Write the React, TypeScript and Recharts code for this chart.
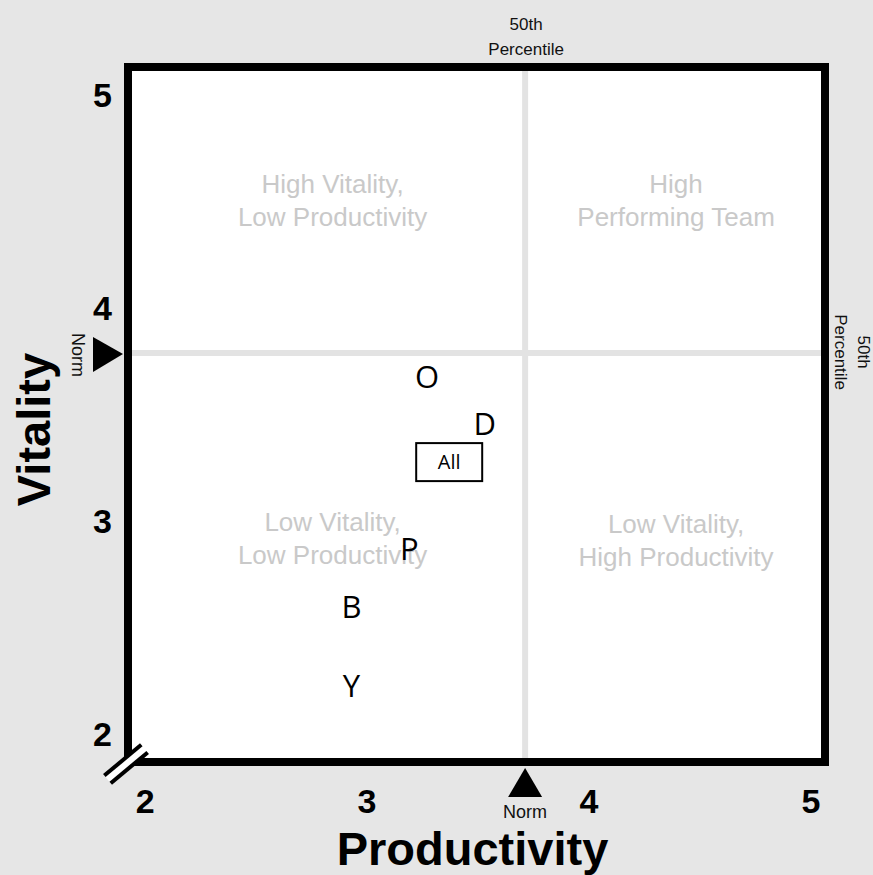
import React from 'react';
import { ScatterChart, Scatter, XAxis, YAxis, ReferenceArea, ReferenceLine } from 'recharts';

const teams = ['O', 'D', 'All', 'P', 'B', 'Y'];
const productivity = [3.27, 3.53, 3.37, 3.19, 2.93, 2.93];
const vitality = [3.7, 3.48, 3.3, 2.89, 2.62, 2.25];
const axisTicks = [2, 3, 4, 5];
const xDomain = [1.923, 5.063];
const yDomain = [1.892, 5.155];
const normProductivity = 3.712;
const normVitality = 3.812;
const quadrantNames = [
  ['High Vitality,', 'Low Productivity'],
  ['High', 'Performing Team'],
  ['Low Vitality,', 'Low Productivity'],
  ['Low Vitality,', 'High Productivity'],
];
const percentileText = ['50th', 'Percentile'];
const normText = 'Norm';

const points = teams.map((name, i) => ({ name, x: productivity[i], y: vitality[i] }));

const ARIAL = '"Liberation Sans", Arial, Helvetica, sans-serif';
const LETTER_FONT = '"Open Sans", "Noto Sans", sans-serif';
const BG = '#e6e6e6';

const XTick = ({ x, y, payload }: any) => (
  <text x={x} y={y + 51} textAnchor="middle" fontFamily={ARIAL} fontWeight="bold" fontSize={34} fill="#000">
    {payload.value}
  </text>
);

const YTick = ({ x, y, payload }: any) => (
  <text x={x - 16} y={y + 7} textAnchor="end" fontFamily={ARIAL} fontWeight="bold" fontSize={34} fill="#000">
    {payload.value}
  </text>
);

// white quadrant with its grey caption
const quadrantShape = (lines: string[], dx: number, dy: number) => (props: any) => {
  const { x, y, width, height } = props;
  const cx = x + width / 2 + dx;
  const cy = y + height / 2 + dy;
  return (
    <g>
      <rect x={x} y={y} width={width} height={height} fill="#fff" />
      <text textAnchor="middle" fontFamily={ARIAL} fontSize={26} fill="#c9c9c9">
        <tspan x={cx} y={cy}>{lines[0]}</tspan>
        <tspan x={cx} y={cy + 33}>{lines[1]}</tspan>
      </text>
    </g>
  );
};

const BorderShape = (props: any) => {
  const { x, y, width, height } = props;
  const bx = x - 2;
  const by = y + height + 2;
  const ux = 0.77, uy = -0.64; // break direction
  const nx = 0.64, ny = 0.77;
  const L = 24;
  const off = 5;
  const seg = (o: number) => ({
    x1: bx - ux * L + nx * o, y1: by - uy * L + ny * o,
    x2: bx + ux * L + nx * o, y2: by + uy * L + ny * o,
  });
  const a = seg(-off);
  const b = seg(off);
  return (
    <g>
      <rect x={x} y={y} width={width} height={height} fill="none" stroke="#000" strokeWidth={8} />
      <polygon
        points={`${a.x1},${a.y1} ${a.x2},${a.y2} ${b.x2},${b.y2} ${b.x1},${b.y1}`}
        fill="#fff"
      />
      <line {...a} stroke="#000" strokeWidth={4} />
      <line {...b} stroke="#000" strokeWidth={4} />
    </g>
  );
};

const VerticalNormLabel = (props: any) => {
  const vb = props.viewBox || {};
  const lx = vb.x;
  const top = vb.y;
  const bottom = vb.y + vb.height;
  return (
    <g>
      <text textAnchor="middle" fontFamily={ARIAL} fontSize={17} fill="#111">
        <tspan x={lx + 1} y={top - 37}>{percentileText[0]}</tspan>
        <tspan x={lx + 1} y={top - 12}>{percentileText[1]}</tspan>
      </text>
      <polygon points={`${lx},${bottom + 6} ${lx - 17},${bottom + 35} ${lx + 17},${bottom + 35}`} fill="#000" />
      <text x={lx} y={bottom + 56} textAnchor="middle" fontFamily={ARIAL} fontSize={18} fill="#111">
        {normText}
      </text>
    </g>
  );
};

const HorizontalNormLabel = (props: any) => {
  const vb = props.viewBox || {};
  const ly = vb.y;
  const left = vb.x;
  const right = vb.x + vb.width;
  return (
    <g>
      <polygon points={`${left - 5},${ly + 1} ${left - 35},${ly - 16} ${left - 35},${ly + 19}`} fill="#000" />
      <g transform={`translate(${left - 56},${ly + 2}) rotate(90)`}>
        <text x={0} y={0} textAnchor="middle" fontFamily={ARIAL} fontSize={18} fill="#111">
          {normText}
        </text>
      </g>
      <g transform={`translate(${right + 45},${ly - 1}) rotate(90)`}>
        <text textAnchor="middle" fontFamily={ARIAL} fontSize={17} fill="#111">
          <tspan x={0} y={12}>{percentileText[0]}</tspan>
          <tspan x={0} y={35}>{percentileText[1]}</tspan>
        </text>
      </g>
    </g>
  );
};

const TeamMark = (props: any) => {
  const { cx, cy, payload } = props;
  if (payload.name === 'All') {
    return (
      <g>
        <rect x={cx - 33} y={cy - 19} width={66} height={38} fill="#fff" stroke="#000" strokeWidth={2} />
        <text x={cx} y={cy + 7} textAnchor="middle" fontFamily={LETTER_FONT} fontSize={20} fill="#000">
          {payload.name}
        </text>
      </g>
    );
  }
  return (
    <text x={cx} y={cy + 11} textAnchor="middle" fontFamily={LETTER_FONT} fontSize={31} fill="#000">
      {payload.name}
    </text>
  );
};

const XTitle = (props: any) => {
  const vb = props.viewBox || {};
  return (
    <text x={vb.x + vb.width / 2 - 4} y={865} textAnchor="middle" fontFamily={ARIAL} fontWeight="bold" fontSize={47} fill="#000">
      Productivity
    </text>
  );
};

const YTitle = (props: any) => {
  const vb = props.viewBox || {};
  return (
    <g transform={`translate(50,${vb.y + vb.height / 2 + 15}) rotate(-90)`}>
      <text x={0} y={0} textAnchor="middle" fontFamily={ARIAL} fontWeight="bold" fontSize={47} fill="#000">
        Vitality
      </text>
    </g>
  );
};

export default function App() {
  return (
    <div style={{ position: 'absolute', left: 0, top: 0, width: 873, height: 875, background: BG }}>
      <ScatterChart width={873} height={875} margin={{ top: 67, right: 48, bottom: 73, left: 88 }}>
        <XAxis
          type="number"
          dataKey="x"
          domain={xDomain}
          ticks={axisTicks}
          allowDataOverflow
          axisLine={false}
          tickLine={false}
          tickSize={0}
          tickMargin={0}
          height={40}
          tick={<XTick />}
          label={<XTitle />}
        />
        <YAxis
          type="number"
          dataKey="y"
          domain={yDomain}
          ticks={axisTicks}
          allowDataOverflow
          axisLine={false}
          tickLine={false}
          tickSize={0}
          tickMargin={0}
          width={40}
          tick={<YTick />}
          label={<YTitle />}
        />
        <ReferenceArea x1={xDomain[0]} x2={normProductivity} y1={normVitality} y2={yDomain[1]} shape={quadrantShape(quadrantNames[0], 6, -17)} />
        <ReferenceArea x1={normProductivity} x2={xDomain[1]} y1={normVitality} y2={yDomain[1]} shape={quadrantShape(quadrantNames[1], 1, -17)} />
        <ReferenceArea x1={xDomain[0]} x2={normProductivity} y1={yDomain[0]} y2={normVitality} shape={quadrantShape(quadrantNames[2], 6, -27)} />
        <ReferenceArea x1={normProductivity} x2={xDomain[1]} y1={yDomain[0]} y2={normVitality} shape={quadrantShape(quadrantNames[3], 1, -25)} />
        <ReferenceLine x={normProductivity} stroke="#e3e3e3" strokeWidth={6} label={<VerticalNormLabel />} />
        <ReferenceLine y={normVitality} stroke="#e3e3e3" strokeWidth={6} label={<HorizontalNormLabel />} />
        <ReferenceArea x1={xDomain[0]} x2={xDomain[1]} y1={yDomain[0]} y2={yDomain[1]} shape={<BorderShape />} zIndex={450} />
        <Scatter data={points} shape={<TeamMark />} isAnimationActive={false} />
      </ScatterChart>
    </div>
  );
}
